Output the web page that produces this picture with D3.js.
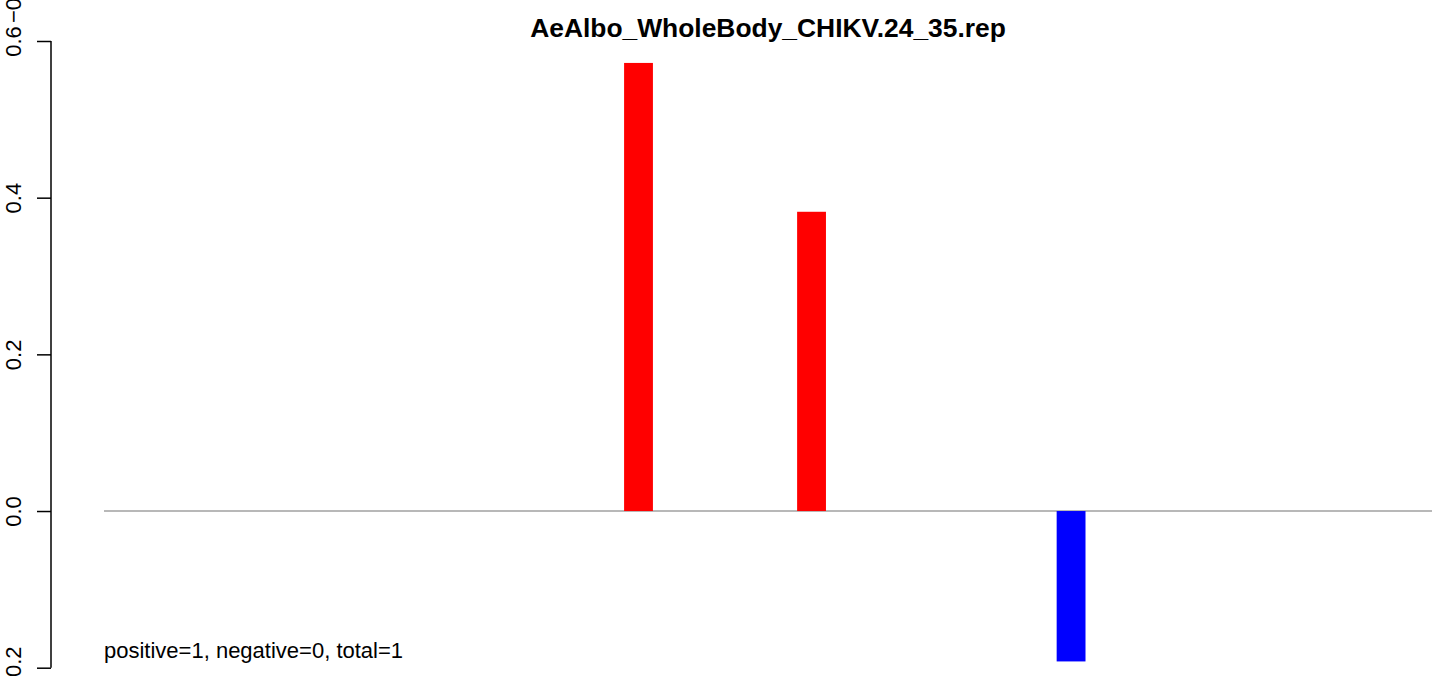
<!DOCTYPE html>
<html>
<head>
<meta charset="utf-8">
<script src="https://cdn.jsdelivr.net/npm/d3@7"></script>
<style>
html,body{margin:0;padding:0;background:#fff;}
svg{display:block;font-family:"Liberation Sans",Arial,Helvetica,sans-serif;}
</style>
</head>
<body>
<svg id="chart" width="1436" height="676"></svg>
<script>
// ---- data ----
const titleText = "AeAlbo_WholeBody_CHIKV.24_35.rep";
const barPositions = [6, 8, 11];
const barValues = [0.572, 0.382, -0.192];
const barColors = ["#ff0000", "#ff0000", "#0000ff"];
const yTicks = [-0.2, 0.0, 0.2, 0.4, 0.6];
const yTickLabels = ["\u22120.2", "0.0", "0.2", "0.4", "0.6"];
const noteText = "positive=1, negative=0, total=1";
const clippedLabel = "\u22120.2";

// ---- layout ----
const svg = d3.select("#chart");
const plotLeft = 104, plotRight = 1432;
const axisX = 51;
const baseFont = 22;

const y = d3.scaleLinear().domain([-0.2, 0.6]).range([667.7, 41]);
const x = d3.scaleLinear().domain([0, 15.35]).range([plotLeft, plotRight]);
const barW = x(1 / 3) - x(0);

// zero line
svg.append("line")
  .attr("x1", plotLeft).attr("x2", plotRight)
  .attr("y1", y(0)).attr("y2", y(0))
  .attr("stroke", "#a0a0a0").attr("stroke-width", 1.6);

// bars
svg.selectAll("rect.bar").data(barValues).enter().append("rect")
  .attr("class", "bar")
  .attr("x", (d, i) => x(barPositions[i]) + 1)
  .attr("width", barW)
  .attr("y", d => Math.min(y(d), y(0)))
  .attr("height", d => Math.abs(y(d) - y(0)))
  .attr("fill", (d, i) => barColors[i]);

// y axis
const axis = d3.axisLeft(y).tickValues(yTicks).tickSize(14)
  .tickFormat((d, i) => yTickLabels[i]);
const g = svg.append("g").attr("transform", `translate(${axisX},0)`).call(axis);
g.select(".domain").attr("d", `M0,${y(-0.2)}V${y(0.6)}`).attr("stroke", "#000").attr("stroke-width", 1.5);
g.selectAll(".tick line").attr("stroke", "#000").attr("stroke-width", 1.5);
g.selectAll(".tick text")
  .attr("font-size", baseFont)
  .attr("font-family", "Liberation Sans, Arial, sans-serif")
  .attr("fill", "#000")
  .attr("text-anchor", "middle")
  .attr("x", null).attr("dy", null)
  .attr("transform", "translate(-30,0) rotate(-90)");

// clipped label from neighbouring panel at the very top
svg.append("text")
  .attr("transform", `translate(21,23) rotate(-90)`)
  .attr("font-size", baseFont)
  .attr("text-anchor", "start")
  .text(clippedLabel);

// title
svg.append("text")
  .attr("x", (plotLeft + plotRight) / 2).attr("y", 37)
  .attr("text-anchor", "middle")
  .attr("font-weight", "bold")
  .attr("font-size", baseFont * 1.2)
  .text(titleText);

// note
svg.append("text")
  .attr("x", plotLeft).attr("y", 658)
  .attr("font-size", baseFont)
  .text(noteText);
</script>
</body>
</html>
